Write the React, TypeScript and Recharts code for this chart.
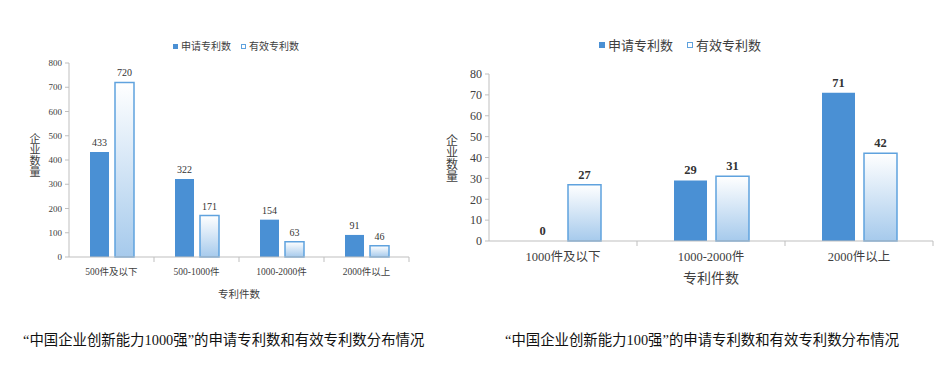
import React from 'react';
import { BarChart, Bar, XAxis, YAxis, Legend, Label } from 'recharts';

// left chart: 1000强
const leftCategories = ['500件及以下', '500-1000件', '1000-2000件', '2000件以上'];
const leftApplied = [433, 322, 154, 91];
const leftValid = [720, 171, 63, 46];
const leftTicks = [0, 100, 200, 300, 400, 500, 600, 700, 800];

// right chart: 100强
const rightCategories = ['1000件及以下', '1000-2000件', '2000件以上'];
const rightApplied = [0, 29, 71];
const rightValid = [27, 31, 42];
const rightTicks = [0, 10, 20, 30, 40, 50, 60, 70, 80];

const seriesKeys = ['applied', 'valid'];
const seriesNames = ['申请专利数', '有效专利数'];
const yTitle = '企业数量';
const xTitle = '专利件数';
const captions = [
    '“中国企业创新能力1000强”的申请专利数和有效专利数分布情况',
    '“中国企业创新能力100强”的申请专利数和有效专利数分布情况',
];

const DARK = '#4a90d4';
const LIGHT_STROKE = '#5fa2de';
const AXIS = '#bfbfbf';
const TEXT = '#404040';
const SERIF = '"Liberation Serif", "Noto Sans CJK SC", serif';
const SANS = '"Noto Sans CJK SC", sans-serif';

const buildRows = (cats: string[], applied: number[], valid: number[]) =>
    cats.map((name, i) => ({ name, applied: applied[i], valid: valid[i] }));

// zero-valued bars still need a rectangle so their "0" label is drawn
const zeroMin = (value: number) => (value === 0 ? 0.1 : 0);

const makeXTick = (fontSize: number, textDy: number) => (props: any) => {
    const { x, y, payload } = props;
    const half = payload && typeof payload.offset === 'number' ? payload.offset : 0;
    return (
        <g>
            <text x={x} y={y + textDy} textAnchor="middle" dominantBaseline="central"
                fontSize={fontSize} fontFamily={SERIF} fill={TEXT}>
                {payload.value}
            </text>
            <line x1={x + half} x2={x + half} y1={y} y2={y + 5} stroke={AXIS} />
        </g>
    );
};

// vertical, upright title
const makeYTitle = (fontSize: number, dx: number, dyFromCenter: number) => (props: any) => {
    const vb = props.viewBox || {};
    return (
        <text x={vb.x + dx} y={vb.y + vb.height / 2 + dyFromCenter} textAnchor="middle"
            fontSize={fontSize} fontFamily={SANS} fill={TEXT}
            style={{ writingMode: 'vertical-rl', textOrientation: 'upright' } as React.CSSProperties}>
            {yTitle}
        </text>
    );
};

const makeXTitle = (fontSize: number, dy: number) => (props: any) => {
    const vb = props.viewBox || {};
    return (
        <text x={vb.x + vb.width / 2} y={vb.y + dy} textAnchor="middle" dominantBaseline="central"
            fontSize={fontSize} fontFamily={SANS} fill={TEXT}>
            {xTitle}
        </text>
    );
};

const makeBarLabel = (fontSize: number, bold: boolean) => (props: any) => {
    const { x, y, width, value } = props;
    return (
        <text x={x + width / 2} y={y - 6} textAnchor="middle" fontSize={fontSize} fontFamily={SERIF}
            fill="#333" fontWeight={bold ? 700 : 400}>
            {String(value)}
        </text>
    );
};

const makeLegend = (fontSize: number, square: number, gap: number) => (props: any) => {
    const items = [...(props.payload || [])].sort(
        (a: any, b: any) => seriesKeys.indexOf(a.dataKey) - seriesKeys.indexOf(b.dataKey));
    return (
        <div style={{ display: 'flex', alignItems: 'center', fontFamily: SANS, fontSize, color: TEXT, lineHeight: 1, whiteSpace: 'nowrap' }}>
            {items.map((item: any, i: number) => {
                const dark = item.dataKey === 'applied';
                return (
                    <div key={i} style={{ display: 'flex', alignItems: 'center', marginRight: i === 0 ? gap : 0 }}>
                        <span style={{
                            display: 'inline-block', width: square, height: square, marginRight: 3, boxSizing: 'border-box',
                            background: dark ? DARK : '#ffffff', border: dark ? 'none' : `1px solid ${LIGHT_STROKE}`,
                        }} />
                        <span>{item.value}</span>
                    </div>
                );
            })}
        </div>
    );
};

interface PanelProps {
    id: string;
    categories: string[];
    applied: number[];
    valid: number[];
    ticks: number[];
    width: number;
    height: number;
    margin: { top: number; right: number; bottom: number; left: number };
    yWidth: number;
    barSize: number;
    barGap: number;
    tickFont: number;
    catFont: number;
    catDy: number;
    labelFont: number;
    labelBold: boolean;
    yTitleFont: number;
    yTitleDx: number;
    yTitleDy: number;
    xTitleFont: number;
    legendFont: number;
    legendSquare: number;
    legendGap: number;
    legendPos: { left: number; top: number };
}

const Panel: React.FC<PanelProps> = (p) => {
    const rows = buildRows(p.categories, p.applied, p.valid);
    const gradId = `grad-${p.id}`;
    const barLabel = makeBarLabel(p.labelFont, p.labelBold);
    return (
        <BarChart width={p.width} height={p.height} data={rows} margin={p.margin} barGap={p.barGap}>
            <defs>
                <linearGradient id={gradId} x1="0" y1="0" x2="0" y2="1">
                    <stop offset="0%" stopColor="#ffffff" />
                    <stop offset="100%" stopColor="#a6caec" />
                </linearGradient>
            </defs>
            <XAxis dataKey="name" axisLine={{ stroke: AXIS }} tickLine={false} tickSize={0} tickMargin={0}
                height={30} interval={0} tick={makeXTick(p.catFont, p.catDy)}>
                <Label content={makeXTitle(p.xTitleFont, 36)} />
            </XAxis>
            <YAxis domain={[p.ticks[0], p.ticks[p.ticks.length - 1]]} ticks={p.ticks} interval={0} width={p.yWidth}
                axisLine={{ stroke: AXIS }} tickLine={{ stroke: AXIS }} tickSize={4} tickMargin={3}
                tick={{ fontSize: p.tickFont, fontFamily: SERIF, fill: TEXT }}>
                <Label content={makeYTitle(p.yTitleFont, p.yTitleDx, p.yTitleDy)} />
            </YAxis>
            <Legend layout="horizontal" verticalAlign="middle" align="center"
                wrapperStyle={{ left: p.legendPos.left, top: p.legendPos.top, width: 'auto' }}
                content={makeLegend(p.legendFont, p.legendSquare, p.legendGap)} />
            <Bar dataKey="applied" name={seriesNames[0]} fill={DARK} barSize={p.barSize} isAnimationActive={false}
                minPointSize={zeroMin as any} label={barLabel} />
            <Bar dataKey="valid" name={seriesNames[1]} fill={`url(#${gradId})`} stroke={LIGHT_STROKE} strokeWidth={1.5}
                barSize={p.barSize} isAnimationActive={false} minPointSize={zeroMin as any} label={barLabel} />
        </BarChart>
    );
};

const captionStyle: React.CSSProperties = {
    position: 'absolute', top: 331, fontFamily: SERIF, fontSize: 14.4, color: '#111', whiteSpace: 'nowrap', lineHeight: '18px',
};

const App: React.FC = () => (
    <div style={{ position: 'absolute', left: 0, top: 0, width: 948, height: 387, background: '#fff', overflow: 'hidden' }}>
        <div style={{ position: 'absolute', left: 0, top: 0 }}>
            <Panel id="l" categories={leftCategories} applied={leftApplied} valid={leftValid} ticks={leftTicks}
                width={430} height={310} margin={{ top: 63, right: 21, bottom: 23, left: 28 }} yWidth={41}
                barSize={19} barGap={6} tickFont={9} catFont={9.5} catDy={15} labelFont={10} labelBold={false}
                yTitleFont={11} yTitleDx={7} yTitleDy={-5} xTitleFont={10.5}
                legendFont={10} legendSquare={5} legendGap={10} legendPos={{ left: 173, top: 41 }} />
        </div>
        <div style={{ position: 'absolute', left: 440, top: 0 }}>
            <Panel id="r" categories={rightCategories} applied={rightApplied} valid={rightValid} ticks={rightTicks}
                width={508} height={310} margin={{ top: 74, right: 15, bottom: 39, left: 5 }} yWidth={44}
                barSize={33} barGap={9} tickFont={12} catFont={12.5} catDy={16} labelFont={12.5} labelBold={true}
                yTitleFont={12} yTitleDx={7} yTitleDy={1} xTitleFont={14}
                legendFont={13} legendSquare={6} legendGap={14} legendPos={{ left: 159, top: 38 }} />
        </div>
        <div style={{ ...captionStyle, left: 23 }}>{captions[0]}</div>
        <div style={{ ...captionStyle, left: 505 }}>{captions[1]}</div>
    </div>
);

export default App;
